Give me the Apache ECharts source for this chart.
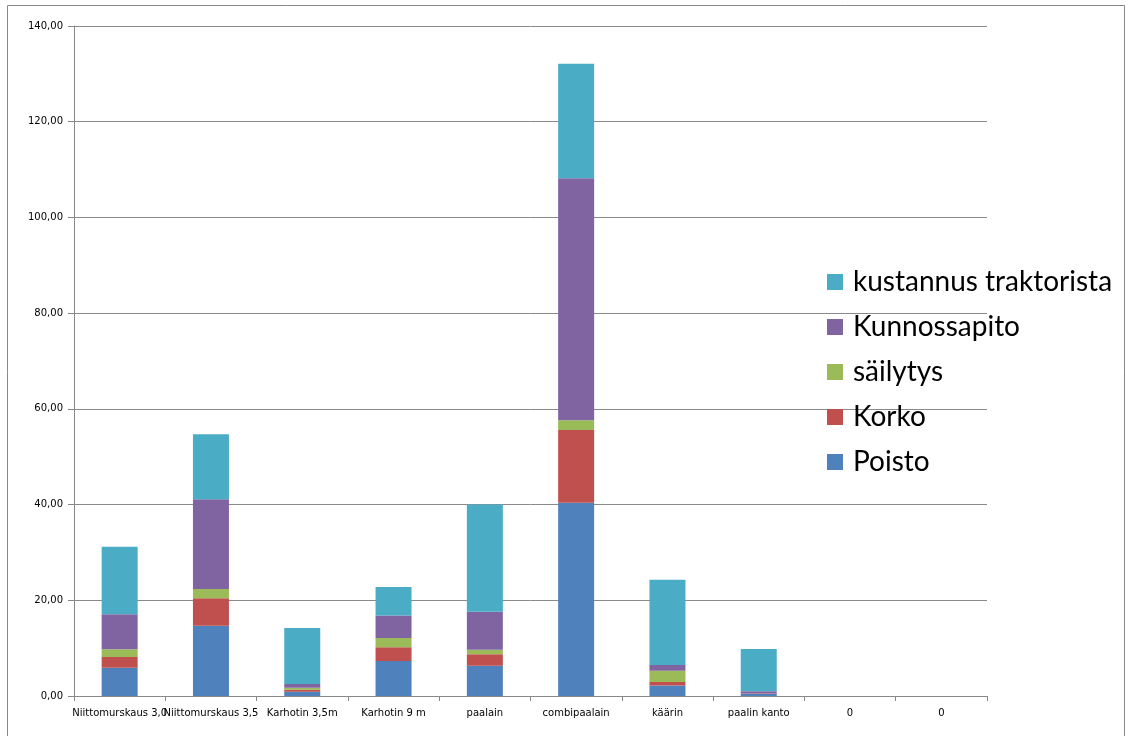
<!DOCTYPE html>
<html>
<head>
<meta charset="utf-8">
<script src="https://cdn.jsdelivr.net/npm/echarts@6/dist/echarts.min.js"></script>
<style>
  html, body { margin: 0; padding: 0; background: #fff; }
  #chart { width: 1132px; height: 736px; }
</style>
</head>
<body>
<div id="chart"></div>
<script>
const categories = ['Niittomurskaus 3,0', 'Niittomurskaus 3,5', 'Karhotin 3,5m', 'Karhotin 9 m', 'paalain', 'combipaalain', 'käärin', 'paalin kanto', '0', '0'];

const poisto       = [5.9, 14.7, 0.9, 7.3, 6.3, 40.4, 2.2, 0.4, 0, 0];
const korko        = [2.25, 5.7, 0.4, 2.9, 2.45, 15.2, 0.75, 0.1, 0, 0];
const sailytys     = [1.6, 1.95, 0.4, 1.9, 0.9, 2.0, 2.35, 0, 0, 0];
const kunnossapito = [7.35, 18.75, 0.8, 4.7, 7.95, 50.6, 1.2, 0.5, 0, 0];
const kustannus    = [14.1, 13.6, 11.7, 6.0, 22.4, 23.9, 17.8, 8.8, 0, 0];

const seriesNames = ['Poisto', 'Korko', 'säilytys', 'Kunnossapito', 'kustannus traktorista'];
const seriesData = [poisto, korko, sailytys, kunnossapito, kustannus];
const colors = ['#4F81BD', '#C0504D', '#9BBB59', '#8064A2', '#4BACC6'];

const chart = echarts.init(document.getElementById('chart'));

const option = {
  animation: false,
  backgroundColor: '#fff',
  grid: { left: 74, right: 145, top: 26, bottom: 40 },
  legend: {
    orient: 'vertical',
    left: 822,
    top: 263,
    itemWidth: 16,
    itemHeight: 16,
    itemGap: 17,
    icon: 'rect',
    data: seriesNames.slice().reverse(),
    textStyle: { fontFamily: 'Lato', fontSize: 28, color: '#000', padding: [0, 0, 0, 5] }
  },
  xAxis: {
    type: 'category',
    data: categories,
    axisLine: { lineStyle: { color: '#888', width: 1 } },
    axisTick: { show: true, length: 5, lineStyle: { color: '#888' } },
    axisLabel: {
      interval: 0,
      margin: 12,
      fontFamily: 'DejaVu Sans',
      fontSize: 10,
      color: '#000'
    }
  },
  yAxis: {
    type: 'value',
    min: 0,
    max: 140,
    interval: 20,
    axisLine: { show: true, lineStyle: { color: '#888', width: 1 } },
    axisTick: { show: true, length: 6, lineStyle: { color: '#888' } },
    splitLine: { lineStyle: { color: '#8a8a8a', width: 1 } },
    axisLabel: {
      margin: 11,
      fontFamily: 'DejaVu Sans',
      fontSize: 10,
      color: '#000',
      formatter: v => v.toFixed(2).replace('.', ',')
    }
  },
  series: seriesData.map((d, i) => ({
    name: seriesNames[i],
    type: 'bar',
    stack: 'total',
    barWidth: 36,
    itemStyle: { color: colors[i] },
    data: d
  })),
  graphic: [{
    type: 'rect',
    shape: { x: 7.5, y: 5.5, width: 1117, height: 740 },
    style: { fill: 'none', stroke: '#888', lineWidth: 1 },
    silent: true
  }]
};

chart.setOption(option);
</script>
</body>
</html>
